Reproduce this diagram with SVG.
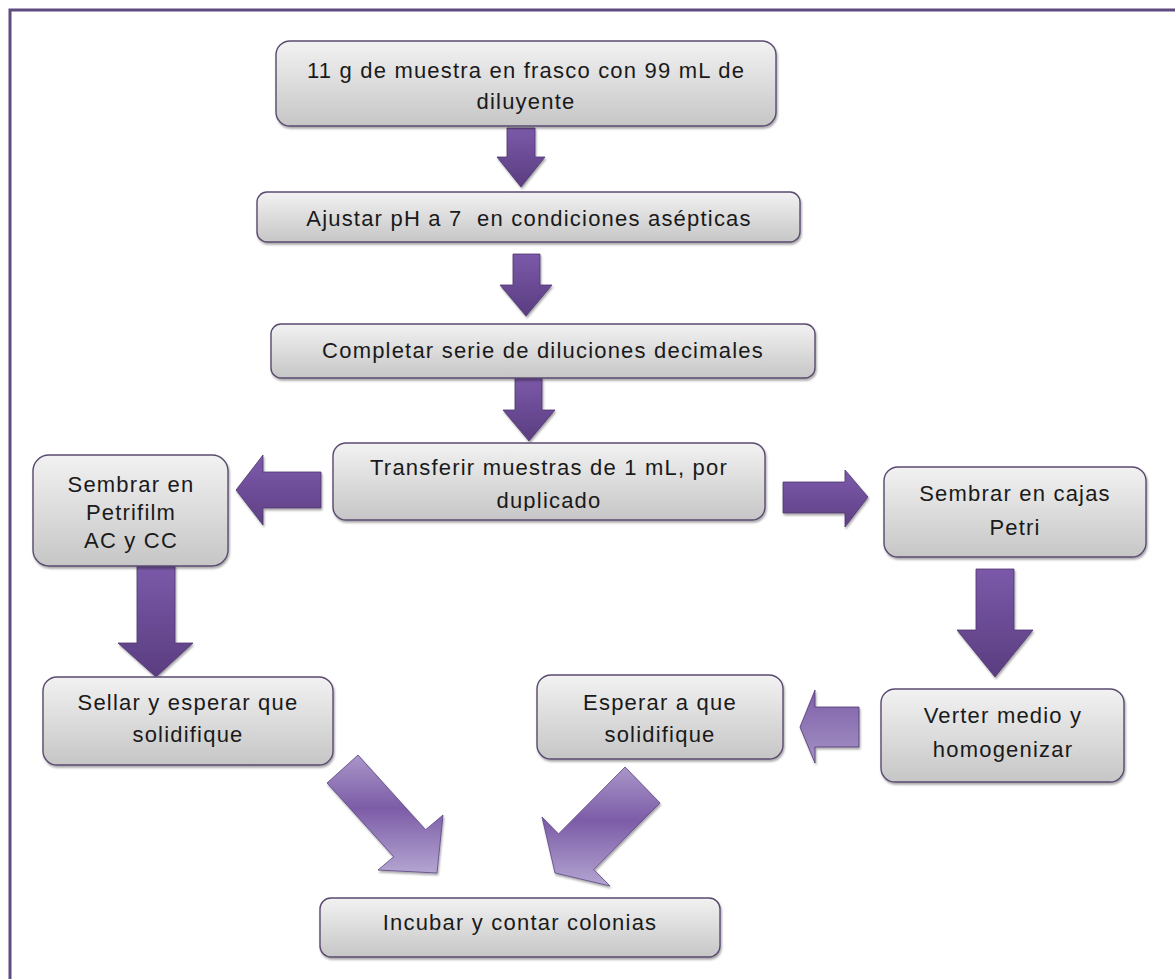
<svg xmlns="http://www.w3.org/2000/svg" width="1175" height="979" viewBox="0 0 1175 979">
<defs>
<style>
.box{fill:url(#boxg);stroke:#5b4a70;stroke-width:1.4;filter:url(#sh)}
.t{font-family:"Liberation Sans",Arial,sans-serif;font-size:22px;letter-spacing:1.2px;fill:#1a1a1a;text-anchor:middle}
.arr{fill:url(#arrg);stroke:#4e3670;stroke-width:0.8;filter:url(#sh)}
.arrh{fill:url(#arrh);stroke:#4e3670;stroke-width:0.8;filter:url(#sh)}
.arrl{fill:url(#arrl);stroke:#4e3670;stroke-width:0.8;filter:url(#sh)}
.diag{fill:url(#diagg);stroke:#5a4480;stroke-width:0.8;filter:url(#sh)}
</style>
<linearGradient id="boxg" x1="0" y1="0" x2="0" y2="1">
<stop offset="0" stop-color="#f2f2f2"/>
<stop offset="1" stop-color="#c6c6c6"/>
</linearGradient>
<linearGradient id="arrg" x1="0" y1="0" x2="0" y2="1">
<stop offset="0" stop-color="#7b59a9"/>
<stop offset="1" stop-color="#5a3d80"/>
</linearGradient>
<linearGradient id="arrh" x1="0" y1="0" x2="0" y2="1">
<stop offset="0" stop-color="#7d5aab"/>
<stop offset="1" stop-color="#5e4085"/>
</linearGradient>
<linearGradient id="arrl" x1="0" y1="0" x2="0" y2="1">
<stop offset="0" stop-color="#7e5fa9"/>
<stop offset="1" stop-color="#a392c4"/>
</linearGradient>
<linearGradient id="diagg" x1="0" y1="0" x2="0" y2="1">
<stop offset="0" stop-color="#a996c9"/>
<stop offset="0.45" stop-color="#7c5ca7"/>
<stop offset="1" stop-color="#b3a5d1"/>
</linearGradient>
<filter id="sh" x="-10%" y="-10%" width="125%" height="130%">
<feDropShadow dx="1" dy="2" stdDeviation="1.2" flood-color="#000" flood-opacity="0.35"/>
</filter>
<clipPath id="clip4"><rect x="333" y="443" width="432" height="68"/></clipPath>
</defs>
<rect width="1175" height="979" fill="#ffffff"/>
<g id="frame" fill="none" stroke="#5f4b80" stroke-width="3">
<path d="M10 979 V10 H1175"/>
</g>
<g id="connectors">
<polygon class="arr" points="507,128 535,128 535,157 545,157 521,187 497,157 507,157"/>
<polygon class="arr" points="513,254 540,254 540,285 552,285 526,316 500,285 513,285"/>
<polygon class="arr" points="515,378 542,378 542,410 555,410 529,441 503,410 515,410"/>
<polygon class="arrh" points="321,472 321,508 263,508 263,525 236,490 263,455 263,472"/>
<polygon class="arrh" points="783,482 845,482 845,470 868,497 845,527 845,513 783,513"/>
<polygon class="arr" points="137,566 175,566 175,643 193,643 156,677 118,643 137,643"/>
<polygon class="arr" points="976,569 1014,569 1014,630 1033,630 995,677 957,630 976,630"/>
<polygon class="arrl" points="859,707 859,747 815,747 815,763 800,727 815,690 815,707"/>
<polygon class="diag" points="327,783 358,755 425.6,829.7 443,815 437,873 378,870 393.7,856.7"/>
<polygon class="diag" points="625,767 660,803 593.8,869.6 610,886 555,873 542,817 558.5,833.9"/>
</g>
<g id="n1"><rect class="box" x="276" y="41" width="500" height="85" rx="14"/>
<text class="t" x="526" y="78">11 g de muestra en frasco con 99 mL de</text>
<text class="t" x="526" y="109">diluyente</text></g>
<g id="n2"><rect class="box" x="257" y="192" width="543" height="50" rx="10"/>
<text class="t" x="529" y="226" xml:space="preserve">Ajustar pH a 7  en condiciones asépticas</text></g>
<g id="n3"><rect class="box" x="271" y="324" width="544" height="54" rx="10"/>
<text class="t" x="543" y="358">Completar serie de diluciones decimales</text></g>
<g id="n4"><rect class="box" x="333" y="443" width="432" height="77" rx="13"/>
<g clip-path="url(#clip4)">
<text class="t" x="549" y="475">Transferir muestras de 1 mL, por</text>
<text class="t" x="549" y="508">duplicado</text></g></g>
<g id="n5"><rect class="box" x="33" y="455" width="195" height="111" rx="16"/>
<text class="t" x="131" y="492">Sembrar en</text>
<text class="t" x="131" y="520">Petrifilm</text>
<text class="t" x="131" y="548">AC y CC</text></g>
<g id="n6"><rect class="box" x="43" y="677" width="290" height="88" rx="14"/>
<text class="t" x="188" y="710">Sellar y esperar que</text>
<text class="t" x="188" y="742">solidifique</text></g>
<g id="n7"><rect class="box" x="884" y="467" width="262" height="90" rx="14"/>
<text class="t" x="1015" y="501">Sembrar en cajas</text>
<text class="t" x="1015" y="535">Petri</text></g>
<g id="n8"><rect class="box" x="881" y="689" width="243" height="93" rx="14"/>
<text class="t" x="1003" y="723">Verter medio y</text>
<text class="t" x="1003" y="757">homogenizar</text></g>
<g id="n9"><rect class="box" x="537" y="675" width="246" height="84" rx="14"/>
<text class="t" x="660" y="710">Esperar a que</text>
<text class="t" x="660" y="742">solidifique</text></g>
<g id="n10"><rect class="box" x="320" y="898" width="400" height="59" rx="11"/>
<text class="t" x="520" y="930">Incubar y contar colonias</text></g>
</svg>
